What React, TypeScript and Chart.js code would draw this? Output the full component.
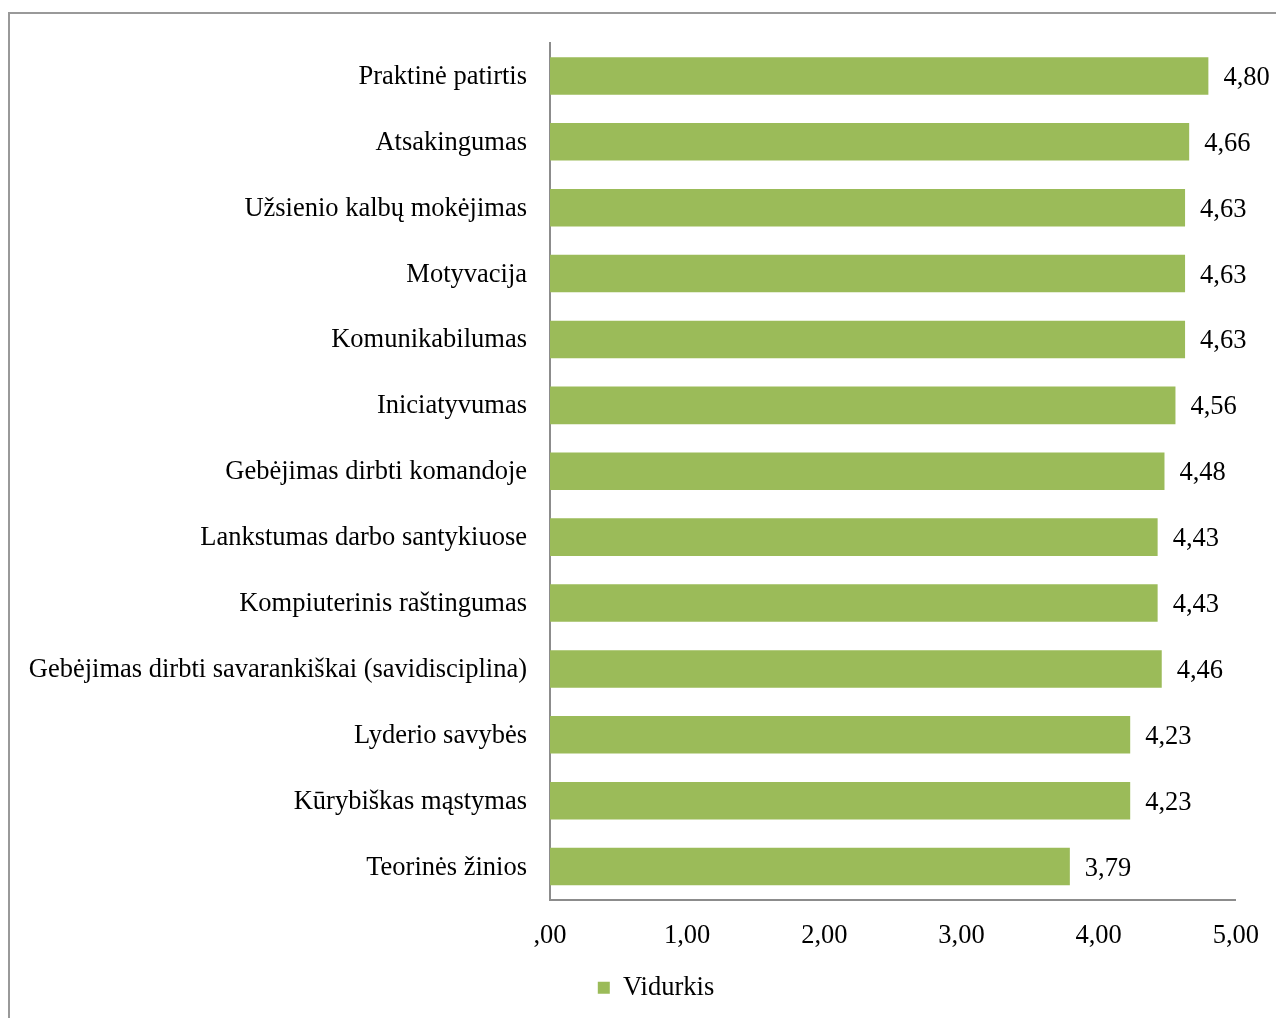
import React, { useEffect, useRef } from "react";
import { Chart, registerables } from "chart.js";

Chart.register(...registerables);

const categories = [
  "Praktinė patirtis",
  "Atsakingumas",
  "Užsienio kalbų mokėjimas",
  "Motyvacija",
  "Komunikabilumas",
  "Iniciatyvumas",
  "Gebėjimas dirbti komandoje",
  "Lankstumas darbo santykiuose",
  "Kompiuterinis raštingumas",
  "Gebėjimas dirbti savarankiškai (savidisciplina)",
  "Lyderio savybės",
  "Kūrybiškas mąstymas",
  "Teorinės žinios",
];

const averages = [4.8, 4.66, 4.63, 4.63, 4.63, 4.56, 4.48, 4.43, 4.43, 4.46, 4.23, 4.23, 3.79];

const seriesLabel = "Vidurkis";

const xMin = 0;
const xMax = 5;

const fmt = (v: number) => {
  const s = v.toFixed(2).replace(".", ",");
  return s.startsWith("0,") ? s.slice(1) : s;
};

const FONT = "'Liberation Serif', 'Times New Roman', serif";
const FS = 26.5;

const valueLabels = {
  id: "valueLabels",
  afterLayout(chart: any) {
    if (chart.legend) {
      chart.legend.left += 36;
      chart.legend.right += 36;
    }
  },
  afterDatasetsDraw(chart: any) {
    const ctx = chart.ctx;
    const meta = chart.getDatasetMeta(0);
    ctx.save();
    ctx.font = `${FS}px ${FONT}`;
    ctx.fillStyle = "#000";
    ctx.textAlign = "left";
    ctx.textBaseline = "middle";
    meta.data.forEach((bar: any, i: number) => {
      const v = chart.data.datasets[0].data[i] as number;
      ctx.fillText(fmt(v), bar.x + 15, bar.y + 2);
    });
    ctx.restore();
  },
};

export default function App() {
  const ref = useRef<HTMLCanvasElement | null>(null);
  useEffect(() => {
    if (!ref.current) return;
    const chart = new Chart(ref.current, {
      type: "bar",
      data: {
        labels: categories,
        datasets: [
          {
            label: seriesLabel,
            data: averages,
            backgroundColor: "#9BBB59",
            borderWidth: 0,
            categoryPercentage: 1,
            barPercentage: 0.57,
          },
        ],
      },
      options: {
        indexAxis: "y",
        animation: false,
        responsive: false,
        maintainAspectRatio: false,
        layout: { padding: { left: 0, right: 40, top: 43, bottom: 7 } },
        scales: {
          x: {
            min: xMin,
            max: xMax,
            grid: { display: false, drawTicks: false },
            border: { display: true, color: "#8c8c8c", width: 2 },
            ticks: {
              stepSize: 1,
              padding: 21,
              color: "#000",
              font: { family: FONT, size: FS },
              callback: (v: any) => fmt(Number(v)),
            },
            afterFit: (s: any) => {
              s.height = 65;
            },
          },
          y: {
            grid: { display: false, drawTicks: false },
            border: { display: true, color: "#8c8c8c", width: 2 },
            ticks: {
              padding: 23,
              labelOffset: 1,
              color: "#000",
              font: { family: FONT, size: FS },
            },
            afterFit: (s: any) => {
              s.width = 550;
            },
          },
        },
        plugins: {
          legend: {
            display: true,
            position: "bottom",
            labels: {
              color: "#000",
              font: { family: FONT, size: FS },
              boxWidth: 12,
              boxHeight: 12,
              padding: 10,
            },
          },
          tooltip: { enabled: false },
        },
      },
      plugins: [valueLabels],
    });
    return () => chart.destroy();
  }, []);

  return (
    <div style={{ position: "fixed", left: 0, top: 0, width: 1276, height: 1018, overflow: "hidden", background: "#fff" }}>
      <div
        style={{
          position: "absolute",
          left: 8,
          top: 12,
          width: 1300,
          height: 1100,
          borderLeft: "2px solid #999",
          borderTop: "2px solid #999",
        }}
      />
      <canvas ref={ref} width={1280} height={1018} style={{ position: "absolute", left: 0, top: 0 }} />
    </div>
  );
}
